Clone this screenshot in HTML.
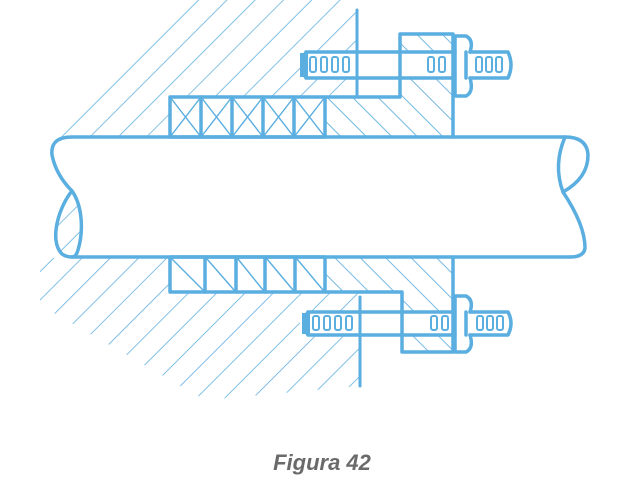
<!DOCTYPE html>
<html><head><meta charset="utf-8"><style>
html,body{margin:0;padding:0;background:#fff;width:634px;height:487px;overflow:hidden}
svg{display:block}
</style></head><body>
<svg width="634" height="487" viewBox="0 0 634 487" xmlns="http://www.w3.org/2000/svg">
<defs>
<pattern id="h1" patternUnits="userSpaceOnUse" width="20" height="20" patternTransform="rotate(45)">
<line x1="0" y1="0" x2="0" y2="20" stroke="#62b0e0" stroke-width="1.6"/></pattern>
<pattern id="h2" patternUnits="userSpaceOnUse" width="18" height="18" patternTransform="rotate(-45)">
<line x1="0" y1="0" x2="0" y2="18" stroke="#62b0e0" stroke-width="1.8"/></pattern>
</defs>
<g fill="none" stroke="#5aaee0" stroke-linejoin="round" stroke-linecap="round">
<polygon points="45,137 180,0 357,0 357,97 170,97 170,137" fill="url(#h1)" stroke="none"/>
<polygon points="40,258 170,258 170,292 360,292 360,386 205,400 40,305" fill="url(#h1)" stroke="none"/>
<polygon points="325,97 400,97 400,34 453,34 453,137 325,137" fill="url(#h2)" stroke="none"/>
<polygon points="325,257 453,257 453,352 402,352 402,292 325,292" fill="url(#h2)" stroke="none"/>
<rect x="300" y="52" width="160" height="26" fill="#fff" stroke="none"/>
<rect x="357" y="78" width="43" height="19" fill="#fff" stroke="none"/>
<rect x="300" y="312" width="160" height="23" fill="#fff" stroke="none"/>
<rect x="360" y="292" width="42" height="20" fill="#fff" stroke="none"/>
<line x1="357" y1="10" x2="357" y2="97" stroke-width="3"/>
<line x1="360" y1="297" x2="360" y2="386" stroke-width="3"/>
<g stroke-width="3.5">
<rect x="170" y="97" width="155" height="40"/>
<line x1="201" y1="97" x2="201" y2="137"/><line x1="232" y1="97" x2="232" y2="137"/>
<line x1="263" y1="97" x2="263" y2="137"/><line x1="294" y1="97" x2="294" y2="137"/>
<polyline points="325,97 400,97 400,34 453,34 453,137"/>
<rect x="170" y="257" width="155" height="35"/>
<line x1="205" y1="257" x2="205" y2="292"/><line x1="236" y1="257" x2="236" y2="292"/>
<line x1="265" y1="257" x2="265" y2="292"/><line x1="295" y1="257" x2="295" y2="292"/>
<polyline points="325,292 402,292 402,352 453,352 453,257"/>
</g>
<g stroke-width="1.4">
<path d="M170,97 L201,137 M201,97 L170,137 M201,97 L232,137 M232,97 L201,137 M232,97 L263,137 M263,97 L232,137 M263,97 L294,137 M294,97 L263,137 M294,97 L325,137 M325,97 L294,137"/>
<path d="M172,259 L203,290 M207,259 L234,290 M238,259 L263,290 M267,259 L293,290 M297,259 L323,290"/>
</g>
<g stroke-width="3.5">
<path d="M306,52 H455 M306,78 H455 M306,52 Q298,65 306,78"/>
<path d="M470,52 H508 Q514,65 508,78 H470"/>
<path d="M455,36 H466 Q474,40 470,52 M470,78 Q474,92 466,96 H455 M455,36 V96 M466,52 V78"/>
<path d="M308,312 H455 M308,335 H455 M308,312 Q300,323 308,335"/>
<path d="M470,312 H508 Q514,323 508,335 H470"/>
<path d="M455,296 H466 Q474,300 470,312 M470,335 Q474,348 466,352 H455 M455,296 V352 M466,312 V335"/>
</g>
<rect x="300" y="53" width="8" height="24" fill="#5aaee0" stroke="none"/>
<rect x="302" y="313" width="8" height="21" fill="#5aaee0" stroke="none"/>
<g stroke-width="2">
<rect x="310" y="57" width="6" height="15" rx="2"/><rect x="321" y="57" width="6" height="15" rx="2"/><rect x="332" y="57" width="6" height="15" rx="2"/><rect x="343" y="57" width="6" height="15" rx="2"/>
<rect x="428" y="57" width="6" height="15" rx="2"/><rect x="439" y="57" width="6" height="15" rx="2"/>
<rect x="476" y="57" width="6" height="15" rx="2"/><rect x="486" y="57" width="6" height="15" rx="2"/><rect x="496" y="57" width="6" height="15" rx="2"/>
<rect x="313" y="316" width="6" height="14" rx="2"/><rect x="324" y="316" width="6" height="14" rx="2"/><rect x="335" y="316" width="6" height="14" rx="2"/><rect x="346" y="316" width="6" height="14" rx="2"/>
<rect x="431" y="316" width="6" height="14" rx="2"/><rect x="442" y="316" width="6" height="14" rx="2"/>
<rect x="477" y="316" width="6" height="14" rx="2"/><rect x="487" y="316" width="6" height="14" rx="2"/><rect x="497" y="316" width="6" height="14" rx="2"/>
</g>
<path d="M72,191 C60,205 48,240 62,254 C68,258 75,258 78,250 C84,230 82,205 72,191 Z" fill="url(#h1)" stroke="none"/>
<g stroke-width="3.5">
<path d="M72,137 H565 M72,257 H570"/>
<path d="M72,137 Q50,137 52,155 Q56,175 72,191 C60,205 48,240 62,254 Q66,257 72,257"/>
<path d="M72,191 C82,205 84,230 78,250 Q76,257 72,257"/>
<path d="M565,137 Q587,137 588,155 Q588,178 563,192 Q553,165 565,137 Z"/>
<path d="M563,192 Q585,225 585,248 Q584,257 570,257"/>
</g>
</g>
<text x="322" y="470" text-anchor="middle" font-family="Liberation Sans, sans-serif" font-size="22" font-weight="bold" font-style="italic" fill="#6a6a6a">Figura 42</text>
</svg>
</body></html>
